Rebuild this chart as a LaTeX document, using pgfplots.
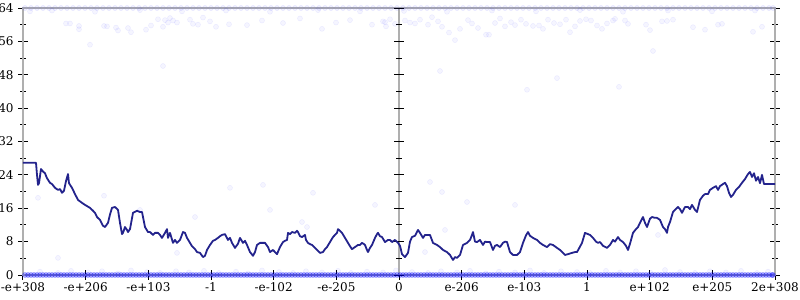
\documentclass[border=0pt]{standalone}
\usepackage{fontspec}
\setmainfont{DejaVu Serif}
\usepackage{pgfplots}
\pgfplotsset{compat=1.18}
\definecolor{navy}{RGB}{35,35,140}
\definecolor{axgray}{RGB}{175,175,175}
\begin{document}
\begin{tikzpicture}
\begin{axis}[
  scale only axis, width=564pt, height=200.25pt,
  at={(0pt,0pt)}, anchor=south west,
  xmin=23, xmax=775, ymin=0, ymax=64,
  axis line style={axgray, line width=1.5pt},
  xtick={23,85.67,148.33,211,273.67,336.33,399,461.67,524.33,587,649.67,712.33,775},
  xticklabels={-e+308,-e+206,-e+103,-1,-e-102,-e-205,0,e-206,e-103,1,e+102,e+205,2e+308},
  ytick={0,8,...,64}, minor y tick num=1,
  xtick pos=left, ytick pos=both, yticklabel pos=left,
  tick align=center,
  tick style={black, line width=0.75pt},
  major tick length=7pt, minor tick length=4pt,
  ticklabel style={font=\fontsize{9}{10}\selectfont},
  xticklabel style={yshift=1pt},
  /pgf/number format/assume math mode=true,
]
% faint scattered samples
\addplot[only marks, mark=*, mark size=1.9pt, mark options={draw=blue, fill=blue, draw opacity=0.06, fill opacity=0.04}] coordinates {
(66,60.3)(70,60.3)(79,59.7)(79,58.9)(104,59.7)(107,59.6)(116,59.3)(118,58.6)(128,59.2)(131,58.2)(146,58.8)(151,59.8)(158,61.3)(163,59.5)(165,61.1)(168,60.5)(170,61.6)(173,61.0)(177,60.5)(190,61.2)(193,60.2)(198,60.0)(203,61.7)(210,60.8)(216,59.5)(229,60.1)(247,59.9)(262,61.0)(283,60.4)(300,61.5)(322,59.0)(336,60.5)(350,61.1)(372,60.0)(385,60.6)
(383,60.8)(386,59.6)(390,61.3)(395,60.2)(405,61.0)(410,60.5)(415,60.3)(420,61.2)(428,60.0)(432,61.8)(438,60.8)(442,59.5)(449,58.1)(455,56.3)(460,59.0)(468,61.1)(472,60.3)(478,59.2)(486,57.6)(489,57.6)(495,60.4)(500,61.5)(505,59.6)(511,60.6)(515,59.9)(521,61.2)(526,60.2)(533,59.7)(539,59.8)(543,59.0)(548,61.2)(554,60.4)(560,60.1)(566,61.2)(570,58.2)(575,59.6)(580,60.9)(586,61.3)(591,61.0)(597,59.8)(602,59.0)(607,60.3)(613,61.0)(615,61.4)(625,61.0)(628,60.2)(646,60.0)(650,58.7)(662,60.8)(667,60.9)(673,61.2)(693,59.4)(705,58.8)(718,60.0)(722,60.2)(762,59.5)(753,58.3)
(90,55.2)(163,50.1)(440,48.9)(527,44.4)(557,47.2)(619,45.1)(653,53.7)(38,18.5)(104,19.0)(140,15.6)(58,4.1)(230,20.9)(263,21.6)(195,13.9)(177,5.3)(270,15.6)(313,19.7)(302,12.7)(307,11.5)(375,16.8)(430,22.3)(442,19.9)(467,17.5)(445,10.8)(425,5.5)(515,16.8)(658,9.6)
(40,0.8)(58,0.5)(71,1.0)(88,0.6)(102,0.9)(118,0.4)(131,1.1)(147,0.7)(160,0.5)(176,0.9)(189,0.6)(204,1.0)(219,0.5)(236,0.8)(248,0.4)(262,1.1)(279,0.7)(293,0.5)(306,0.9)(322,0.6)(338,1.0)(351,0.5)(367,0.8)(383,0.6)(396,1.1)(412,0.7)(428,0.5)(441,0.9)(457,0.6)(470,1.0)(486,0.4)(499,0.8)(515,0.6)(530,1.1)(544,0.5)(561,0.9)(577,0.7)(590,0.5)(606,1.0)(620,0.6)(636,0.9)(651,0.5)(665,1.2)(680,0.7)(695,0.5)(710,0.9)(726,0.6)(741,1.0)(757,0.5)(768,0.8)
(30,63.2)(52,63.4)(95,63.1)(140,63.5)(182,63.2)(226,63.4)(270,63.1)(318,63.5)(360,63.2)(404,63.3)(447,63.1)(492,63.4)(536,63.2)(580,63.5)(623,63.1)(668,63.4)(712,63.2)(755,63.4)
};
% dense samples at the top limit
\addplot[only marks, mark=*, mark size=1.9pt, mark options={draw=blue, fill=blue, draw opacity=0.08, fill opacity=0.06}] coordinates {
(25,64)(31,64)(37,64)(43,64)(49,64)(55,64)(61,64)(67,64)(73,64)(79,64)(85,64)(91,64)(97,64)(103,64)(109,64)(115,64)(121,64)(127,64)(133,64)(139,64)(145,64)(151,64)(157,64)(163,64)(169,64)(175,64)(181,64)(187,64)(193,64)(199,64)(205,64)(211,64)(217,64)(223,64)(229,64)(235,64)(241,64)(247,64)(253,64)(259,64)(265,64)(271,64)(277,64)(283,64)(289,64)(295,64)(301,64)(307,64)(313,64)(319,64)(325,64)(331,64)(337,64)(343,64)(349,64)(355,64)(361,64)(367,64)(373,64)(379,64)(385,64)(391,64)(397,64)(403,64)(409,64)(415,64)(421,64)(427,64)(433,64)(439,64)(445,64)(451,64)(457,64)(463,64)(469,64)(475,64)(481,64)(487,64)(493,64)(499,64)(505,64)(511,64)(517,64)(523,64)(529,64)(535,64)(541,64)(547,64)(553,64)(559,64)(565,64)(571,64)(577,64)(583,64)(589,64)(595,64)(601,64)(607,64)(613,64)(619,64)(625,64)(631,64)(637,64)(643,64)(649,64)(655,64)(661,64)(667,64)(673,64)(679,64)(685,64)(691,64)(697,64)(703,64)(709,64)(715,64)(721,64)(727,64)(733,64)(739,64)(745,64)(751,64)(757,64)(763,64)(769,64)(773,64)
};
% dense samples at zero
\addplot[only marks, mark=*, mark size=1.9pt, mark options={draw=blue, fill=blue, draw opacity=0.3, fill opacity=0.3}] coordinates {
(25,0)(31,0)(37,0)(43,0)(49,0)(55,0)(61,0)(67,0)(73,0)(79,0)(85,0)(91,0)(97,0)(103,0)(109,0)(115,0)(121,0)(127,0)(133,0)(139,0)(145,0)(151,0)(157,0)(163,0)(169,0)(175,0)(181,0)(187,0)(193,0)(199,0)(205,0)(211,0)(217,0)(223,0)(229,0)(235,0)(241,0)(247,0)(253,0)(259,0)(265,0)(271,0)(277,0)(283,0)(289,0)(295,0)(301,0)(307,0)(313,0)(319,0)(325,0)(331,0)(337,0)(343,0)(349,0)(355,0)(361,0)(367,0)(373,0)(379,0)(385,0)(391,0)(397,0)(403,0)(409,0)(415,0)(421,0)(427,0)(433,0)(439,0)(445,0)(451,0)(457,0)(463,0)(469,0)(475,0)(481,0)(487,0)(493,0)(499,0)(505,0)(511,0)(517,0)(523,0)(529,0)(535,0)(541,0)(547,0)(553,0)(559,0)(565,0)(571,0)(577,0)(583,0)(589,0)(595,0)(601,0)(607,0)(613,0)(619,0)(625,0)(631,0)(637,0)(643,0)(649,0)(655,0)(661,0)(667,0)(673,0)(679,0)(685,0)(691,0)(697,0)(703,0)(709,0)(715,0)(721,0)(727,0)(733,0)(739,0)(745,0)(751,0)(757,0)(763,0)(769,0)(773,0)
(28,0)(34,0)(40,0)(46,0)(52,0)(58,0)(64,0)(70,0)(76,0)(82,0)(88,0)(94,0)(100,0)(106,0)(112,0)(118,0)(124,0)(130,0)(136,0)(142,0)(148,0)(154,0)(160,0)(166,0)(172,0)(178,0)(184,0)(190,0)(196,0)(202,0)(208,0)(214,0)(220,0)(226,0)(232,0)(238,0)(244,0)(250,0)(256,0)(262,0)(268,0)(274,0)(280,0)(286,0)(292,0)(298,0)(304,0)(310,0)(316,0)(322,0)(328,0)(334,0)(340,0)(346,0)(352,0)(358,0)(364,0)(370,0)(376,0)(382,0)(388,0)(394,0)(400,0)(406,0)(412,0)(418,0)(424,0)(430,0)(436,0)(442,0)(448,0)(454,0)(460,0)(466,0)(472,0)(478,0)(484,0)(490,0)(496,0)(502,0)(508,0)(514,0)(520,0)(526,0)(532,0)(538,0)(544,0)(550,0)(556,0)(562,0)(568,0)(574,0)(580,0)(586,0)(592,0)(598,0)(604,0)(610,0)(616,0)(622,0)(628,0)(634,0)(640,0)(646,0)(652,0)(658,0)(664,0)(670,0)(676,0)(682,0)(688,0)(694,0)(700,0)(706,0)(712,0)(718,0)(724,0)(730,0)(736,0)(742,0)(748,0)(754,0)(760,0)(766,0)(772,0)
};
% centre axis line with ticks
\draw[axgray, line width=1.5pt] (axis cs:399,0) -- (axis cs:399,64);
\pgfplotsinvokeforeach{0,8,16,24,32,40,48,56,64}{
  \draw[black, line width=0.75pt] ([xshift=-3.5pt]axis cs:399,#1) -- ([xshift=3.5pt]axis cs:399,#1);
}
\pgfplotsinvokeforeach{4,12,20,28,36,44,52,60}{
  \draw[black, line width=0.75pt] ([xshift=-2pt]axis cs:399,#1) -- ([xshift=2pt]axis cs:399,#1);
}
% moving average
\addplot[navy, line width=1.35pt, line join=round] coordinates {
(23,26.9)(36,26.9)(37,24)(38,21.6)(39,22)(41,25.4)(43,24.8)(45,24.4)(47,23.2)(50,22.1)(52,21.8)(55,20.9)(58,20.4)(60,20.6)(62,19.7)(64,20.2)(66,22.5)(68,24.2)(69,22)(72,20.9)(75,19.4)(78,18.0)(82,17.3)(85,16.8)(90,16.1)(93,15.4)(95,14.9)(97,13.9)(100,13.2)(103,11.8)(105,11.5)(108,12.5)(110,14.5)(112,16.1)(115,16.3)(118,15.6)(120,12.5)(122,9.8)(123,10.1)(125,11.5)(127,10.8)(128,10.3)(130,11)(133,14.9)(137,15.4)(140,15.1)(142,15.1)(145,11.5)(148,10.3)(150,10.3)(153,9.6)(155,10.1)(158,10.1)(160,9.6)(162,8.9)(165,10.1)(167,11)(168,8.9)(170,10.1)(173,7.7)(175,8.4)(177,7.7)(180,8.4)(183,10.3)(185,10.1)(187,8.9)(190,7.7)(192,6.9)(195,6.2)(197,5.5)(200,5.3)(203,4.3)(205,4.6)(207,6.0)(210,7.2)(213,8.2)(215,8.4)(218,8.9)(220,9.3)(222,9.6)(225,9.8)(228,8.4)(230,8.9)(232,7.7)(235,6.5)(238,7.5)(240,8.9)(243,7.7)(245,8.2)(247,7.2)(250,5.5)(253,4.6)(255,5.5)(257,7.2)(260,7.7)(263,7.7)(265,7.7)(268,6.7)(270,5.5)(273,6.0)(275,5.5)(277,5.0)(280,6.7)(283,7.9)(285,8.2)(287,8.4)(288,10.1)(290,9.8)(292,10.3)(295,10.1)(297,10.6)(298,10.3)(300,9.3)(302,9.1)(305,9.6)(306,8.4)(308,7.7)(310,7.4)(312,7.2)(315,6.5)(317,6.0)(320,5.3)(323,5.5)(325,6.2)(327,6.7)(330,7.9)(333,9.1)(335,9.6)(337,10.1)(338,11.0)(340,10.6)(342,10.1)(345,8.9)(348,7.7)(350,6.9)(352,6.2)(355,6.7)(358,7.2)(360,7.2)(362,7.7)(364,7.4)(365,7.2)(367,6.0)(368,5.5)(370,6.5)(372,7.2)(375,8.9)(377,9.8)(378,10.1)(380,9.3)(382,9.1)(385,7.9)(388,8.4)(390,8.4)(392,7.9)(395,8.4)(398,7.7)(400,7.0)(402,5.0)(405,4.3)(408,5.3)(410,8.0)(412,9.1)(415,9.4)(418,10.8)(420,10.1)(423,8.9)(425,9.6)(427,9.6)(430,9.6)(433,7.7)(437,7.2)(440,6.7)(443,6.0)(447,5.5)(450,4.8)(453,3.6)(455,4.3)(457,4.1)(460,4.8)(463,7.2)(467,7.7)(470,8.4)(472,9.6)(473,10.3)(475,8.0)(477,7.9)(480,8.4)(483,7.2)(485,8.0)(487,7.9)(490,7.9)(493,6.0)(495,7.0)(497,7.2)(500,6.7)(503,7.7)(505,8.0)(507,7.9)(510,5.5)(513,4.8)(515,4.8)(517,4.8)(520,5.5)(523,7.7)(526,9.5)(528,10.3)(530,9.4)(533,8.9)(537,8.4)(540,7.7)(543,7.2)(547,6.7)(550,7.4)(553,7.2)(557,6.5)(560,6.0)(563,5.3)(565,4.8)(568,5.0)(572,5.3)(575,5.5)(577,5.5)(580,6.8)(582,7.7)(585,10.1)(588,9.8)(590,9.6)(593,8.9)(596,8.0)(598,7.7)(600,7.9)(603,7.0)(607,6.5)(610,7.2)(613,8.4)(615,8.0)(618,9.1)(620,8.4)(623,7.9)(626,7.0)(628,6.0)(630,7.5)(633,10.1)(636,11.0)(638,11.5)(641,13.0)(643,13.9)(645,12.5)(647,11.5)(650,13.5)(652,13.9)(655,13.7)(657,13.7)(660,13.2)(663,11.5)(665,11.0)(667,10.1)(668,11.5)(670,12.7)(673,15.1)(675,15.6)(678,16.3)(680,15.8)(682,14.9)(685,16.3)(688,16.3)(690,15.8)(692,16.8)(695,15.6)(697,15.1)(700,18.0)(703,19.0)(705,19.4)(708,19.4)(710,20.4)(713,20.9)(716,21.3)(718,20.4)(720,21.3)(723,21.8)(725,22.1)(727,21.3)(729,19.7)(731,18.7)(733,19.2)(736,20.4)(739,21.1)(742,22.1)(745,23.0)(748,24.2)(750,24.7)(752,23.5)(754,24.4)(756,22.6)(758,23.5)(760,22.0)(762,24.0)(764,21.8)(775,21.8)
};
\end{axis}
\pgfresetboundingbox
\path[use as bounding box] (-17.25pt,-18.75pt) rectangle (582.75pt,206.25pt);
\end{tikzpicture}
\end{document}
